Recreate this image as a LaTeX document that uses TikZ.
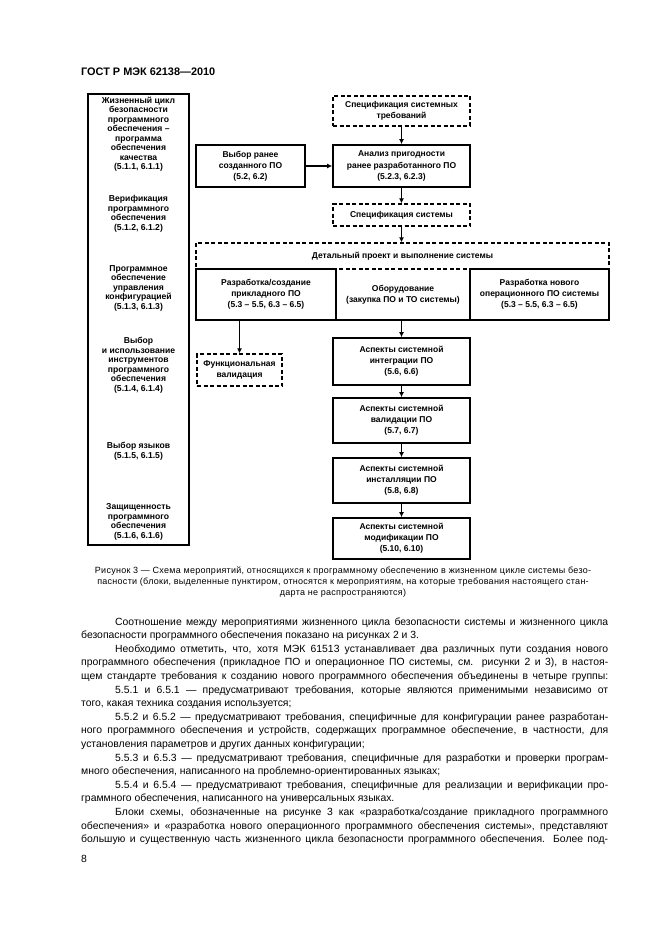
\documentclass[tikz,border=0pt]{standalone}
\usepackage{fontspec}
\setmainfont{Liberation Sans}
\usepackage{graphicx}
\usetikzlibrary{arrows.meta}
\newsavebox\jlbox
\newcommand\jline[2]{\sbox\jlbox{#2}\ifdim\wd\jlbox>#1\relax\resizebox{#1}{\height}{\usebox\jlbox}\else\makebox[#1][s]{#2}\fi}
\newcommand\boxfont{\bfseries\fontsize{8.5}{11.2}\selectfont}
\newcommand\colfont{\bfseries\fontsize{8.6}{9.5}\selectfont}
\newcommand\bodyfont{\fontsize{10.4}{13.6}\selectfont}
\newcommand\capfont{\addfontfeatures{LetterSpace=3}\fontsize{9}{11}\selectfont}
\begin{document}
\begin{tikzpicture}[x=1pt,y=-1pt,
  box/.style={draw, line width=1.7pt, inner sep=0pt, align=center, font=\boxfont},
  dbox/.style={box, line width=1.3pt, dash pattern=on 4pt off 2.5pt},
  coltext/.style={inner sep=0pt, align=center, font=\colfont},
  arr/.style={line width=1.5pt, -{Latex[length=5pt,width=5pt]}},
  bodyline/.style={anchor=base west, inner sep=0pt, font=\bodyfont},
  capline/.style={anchor=base, inner sep=0pt, font=\capfont}]
\useasboundingbox (0,0) rectangle (661,936);
\fill[white] (0,0) rectangle (661,936);

% header
\node[anchor=base west, inner sep=0pt, font=\bfseries\fontsize{10.9}{13}\selectfont] (hdr) at (81,76) {ГОСТ Р МЭК 62138—2010};

% left column
\node[draw, line width=2pt, minimum width=101pt, minimum height=451pt, inner sep=0pt] (leftcol) at (138.5,319.5) {};
\node[coltext] (g1) at (138.5,134) {Жизненный цикл\\безопасности\\программного\\обеспечения –\\программа\\обеспечения\\качества\\(5.1.1, 6.1.1)};
\node[coltext] (g2) at (138.5,214) {Верификация\\программного\\обеспечения\\(5.1.2, 6.1.2)};
\node[coltext] (g3) at (138.5,288) {Программное\\обеспечение\\управления\\конфигурацией\\(5.1.3, 6.1.3)};
\node[coltext] (g4) at (138.5,365) {Выбор\\и использование\\инструментов\\программного\\обеспечения\\(5.1.4, 6.1.4)};
\node[coltext] (g5) at (138.5,451) {Выбор языков\\(5.1.5, 6.1.5)};
\node[coltext] (g6) at (138.5,522) {Защищенность\\программного\\обеспечения\\(5.1.6, 6.1.6)};

% flow
\node[dbox, minimum width=137pt, minimum height=30pt] (specreq) at (401.5,111) {Спецификация системных\\требований};
\node[box, minimum width=109pt, minimum height=42pt] (vybor) at (250.5,166) {Выбор ранее\\созданного ПО\\(5.2, 6.2)};
\node[box, minimum width=137pt, minimum height=42pt] (analiz) at (401.5,166) {Анализ пригодности\\ранее разработанного ПО\\(5.2.3, 6.2.3)};
\node[dbox, minimum width=137pt, minimum height=22pt] (specsys) at (401.5,215) {Спецификация системы};
\node[dbox, minimum width=413pt, minimum height=77pt] (detal) at (402.5,281.5) {};
\node[inner sep=0pt, font=\boxfont] (detaltitle) at (402.5,256.5) {Детальный проект и выполнение системы};
\node[dbox, minimum width=134pt, minimum height=51pt] (oborud) at (403,294.5) {Оборудование\\(закупка ПО и ТО системы)};
\node[box, minimum width=140pt, minimum height=51pt] (prikl) at (266,294.5) {Разработка/создание\\прикладного ПО\\(5.3 – 5.5, 6.3 – 6.5)};
\node[box, minimum width=139pt, minimum height=51pt] (oper) at (539.5,294.5) {Разработка нового\\операционного ПО системы\\(5.3 – 5.5, 6.3 – 6.5)};
\node[dbox, minimum width=85pt, minimum height=32pt] (funkval) at (239.5,370) {Функциональная\\валидация};
\node[box, minimum width=137pt, minimum height=47pt] (asp1) at (401.5,361.5) {Аспекты системной\\интеграции ПО\\(5.6, 6.6)};
\node[box, minimum width=137pt, minimum height=45pt] (asp2) at (401.5,420.5) {Аспекты системной\\валидации ПО\\(5.7, 6.7)};
\node[box, minimum width=137pt, minimum height=45pt] (asp3) at (401.5,480.5) {Аспекты системной\\инсталляции ПО\\(5.8, 6.8)};
\node[box, minimum width=137pt, minimum height=41pt] (asp4) at (401.5,538.5) {Аспекты системной\\модификации ПО\\(5.10, 6.10)};

\draw[arr] (specreq.south) -- (analiz.north);
\draw[arr] (vybor.east) -- (analiz.west);
\draw[arr] (analiz.south) -- (specsys.north);
\draw[arr] (specsys.south) -- (specsys.south |- detal.north);
\draw[arr] (asp1.north |- oborud.south) -- (asp1.north);
\draw[arr] (funkval.north |- prikl.south) -- (funkval.north);
\draw[arr] (asp1.south) -- (asp2.north);
\draw[arr] (asp2.south) -- (asp3.north);
\draw[arr] (asp3.south) -- (asp4.north);

% caption
\node[capline] (cap1) at (343,573) {\jline{496pt}{Рисунок 3 — Схема мероприятий, относящихся к программному обеспечению в жизненном цикле системы безо-}};
\node[capline] (cap2) at (343,584) {пасности (блоки, выделенные пунктиром, относятся к мероприятиям, на которые требования настоящего стан-};
\node[capline] (cap3) at (343,595) {дарта не распространяются)};

% body text
\node[bodyline] (l1) at (115,625) {\jline{493pt}{Соотношение между мероприятиями жизненного цикла безопасности системы и жизненного цикла}};
\node[bodyline] (l2) at (81,638.6) {безопасности программного обеспечения показано на рисунках 2 и 3.};
\node[bodyline] (l3) at (115,652.2) {\jline{493pt}{Необходимо отметить, что, хотя МЭК 61513 устанавливает два различных пути создания нового}};
\node[bodyline] (l4) at (81,665.8) {\jline{527pt}{программного обеспечения (прикладное ПО и операционное ПО системы, см. рисунки 2 и 3), в настоя-}};
\node[bodyline] (l5) at (81,679.4) {\jline{527pt}{щем стандарте требования к созданию нового программного обеспечения объединены в четыре группы:}};
\node[bodyline] (l6) at (115,693) {\jline{493pt}{5.5.1 и 6.5.1 — предусматривают требования, которые являются применимыми независимо от}};
\node[bodyline] (l7) at (81,706.6) {того, какая техника создания используется;};
\node[bodyline] (l8) at (115,720.2) {\jline{493pt}{5.5.2 и 6.5.2 — предусматривают требования, специфичные для конфигурации ранее разработан-}};
\node[bodyline] (l9) at (81,733.8) {\jline{527pt}{ного программного обеспечения и устройств, содержащих программное обеспечение, в частности, для}};
\node[bodyline] (l10) at (81,747.4) {установления параметров и других данных конфигурации;};
\node[bodyline] (l11) at (115,761) {\jline{493pt}{5.5.3 и 6.5.3 — предусматривают требования, специфичные для разработки и проверки програм-}};
\node[bodyline] (l12) at (81,774.6) {много обеспечения, написанного на проблемно-ориентированных языках;};
\node[bodyline] (l13) at (115,788.2) {\jline{493pt}{5.5.4 и 6.5.4 — предусматривают требования, специфичные для реализации и верификации про-}};
\node[bodyline] (l14) at (81,801.8) {граммного обеспечения, написанного на универсальных языках.};
\node[bodyline] (l15) at (115,815.4) {\jline{493pt}{Блоки схемы, обозначенные на рисунке 3 как «разработка/создание прикладного программного}};
\node[bodyline] (l16) at (81,829) {\jline{527pt}{обеспечения» и «разработка нового операционного программного обеспечения системы», представляют}};
\node[bodyline] (l17) at (81,842.6) {\jline{527pt}{большую и существенную часть жизненного цикла безопасности программного обеспечения. Более под-}};
\node[bodyline] (pnum) at (81,862) {8};
\end{tikzpicture}
\end{document}
